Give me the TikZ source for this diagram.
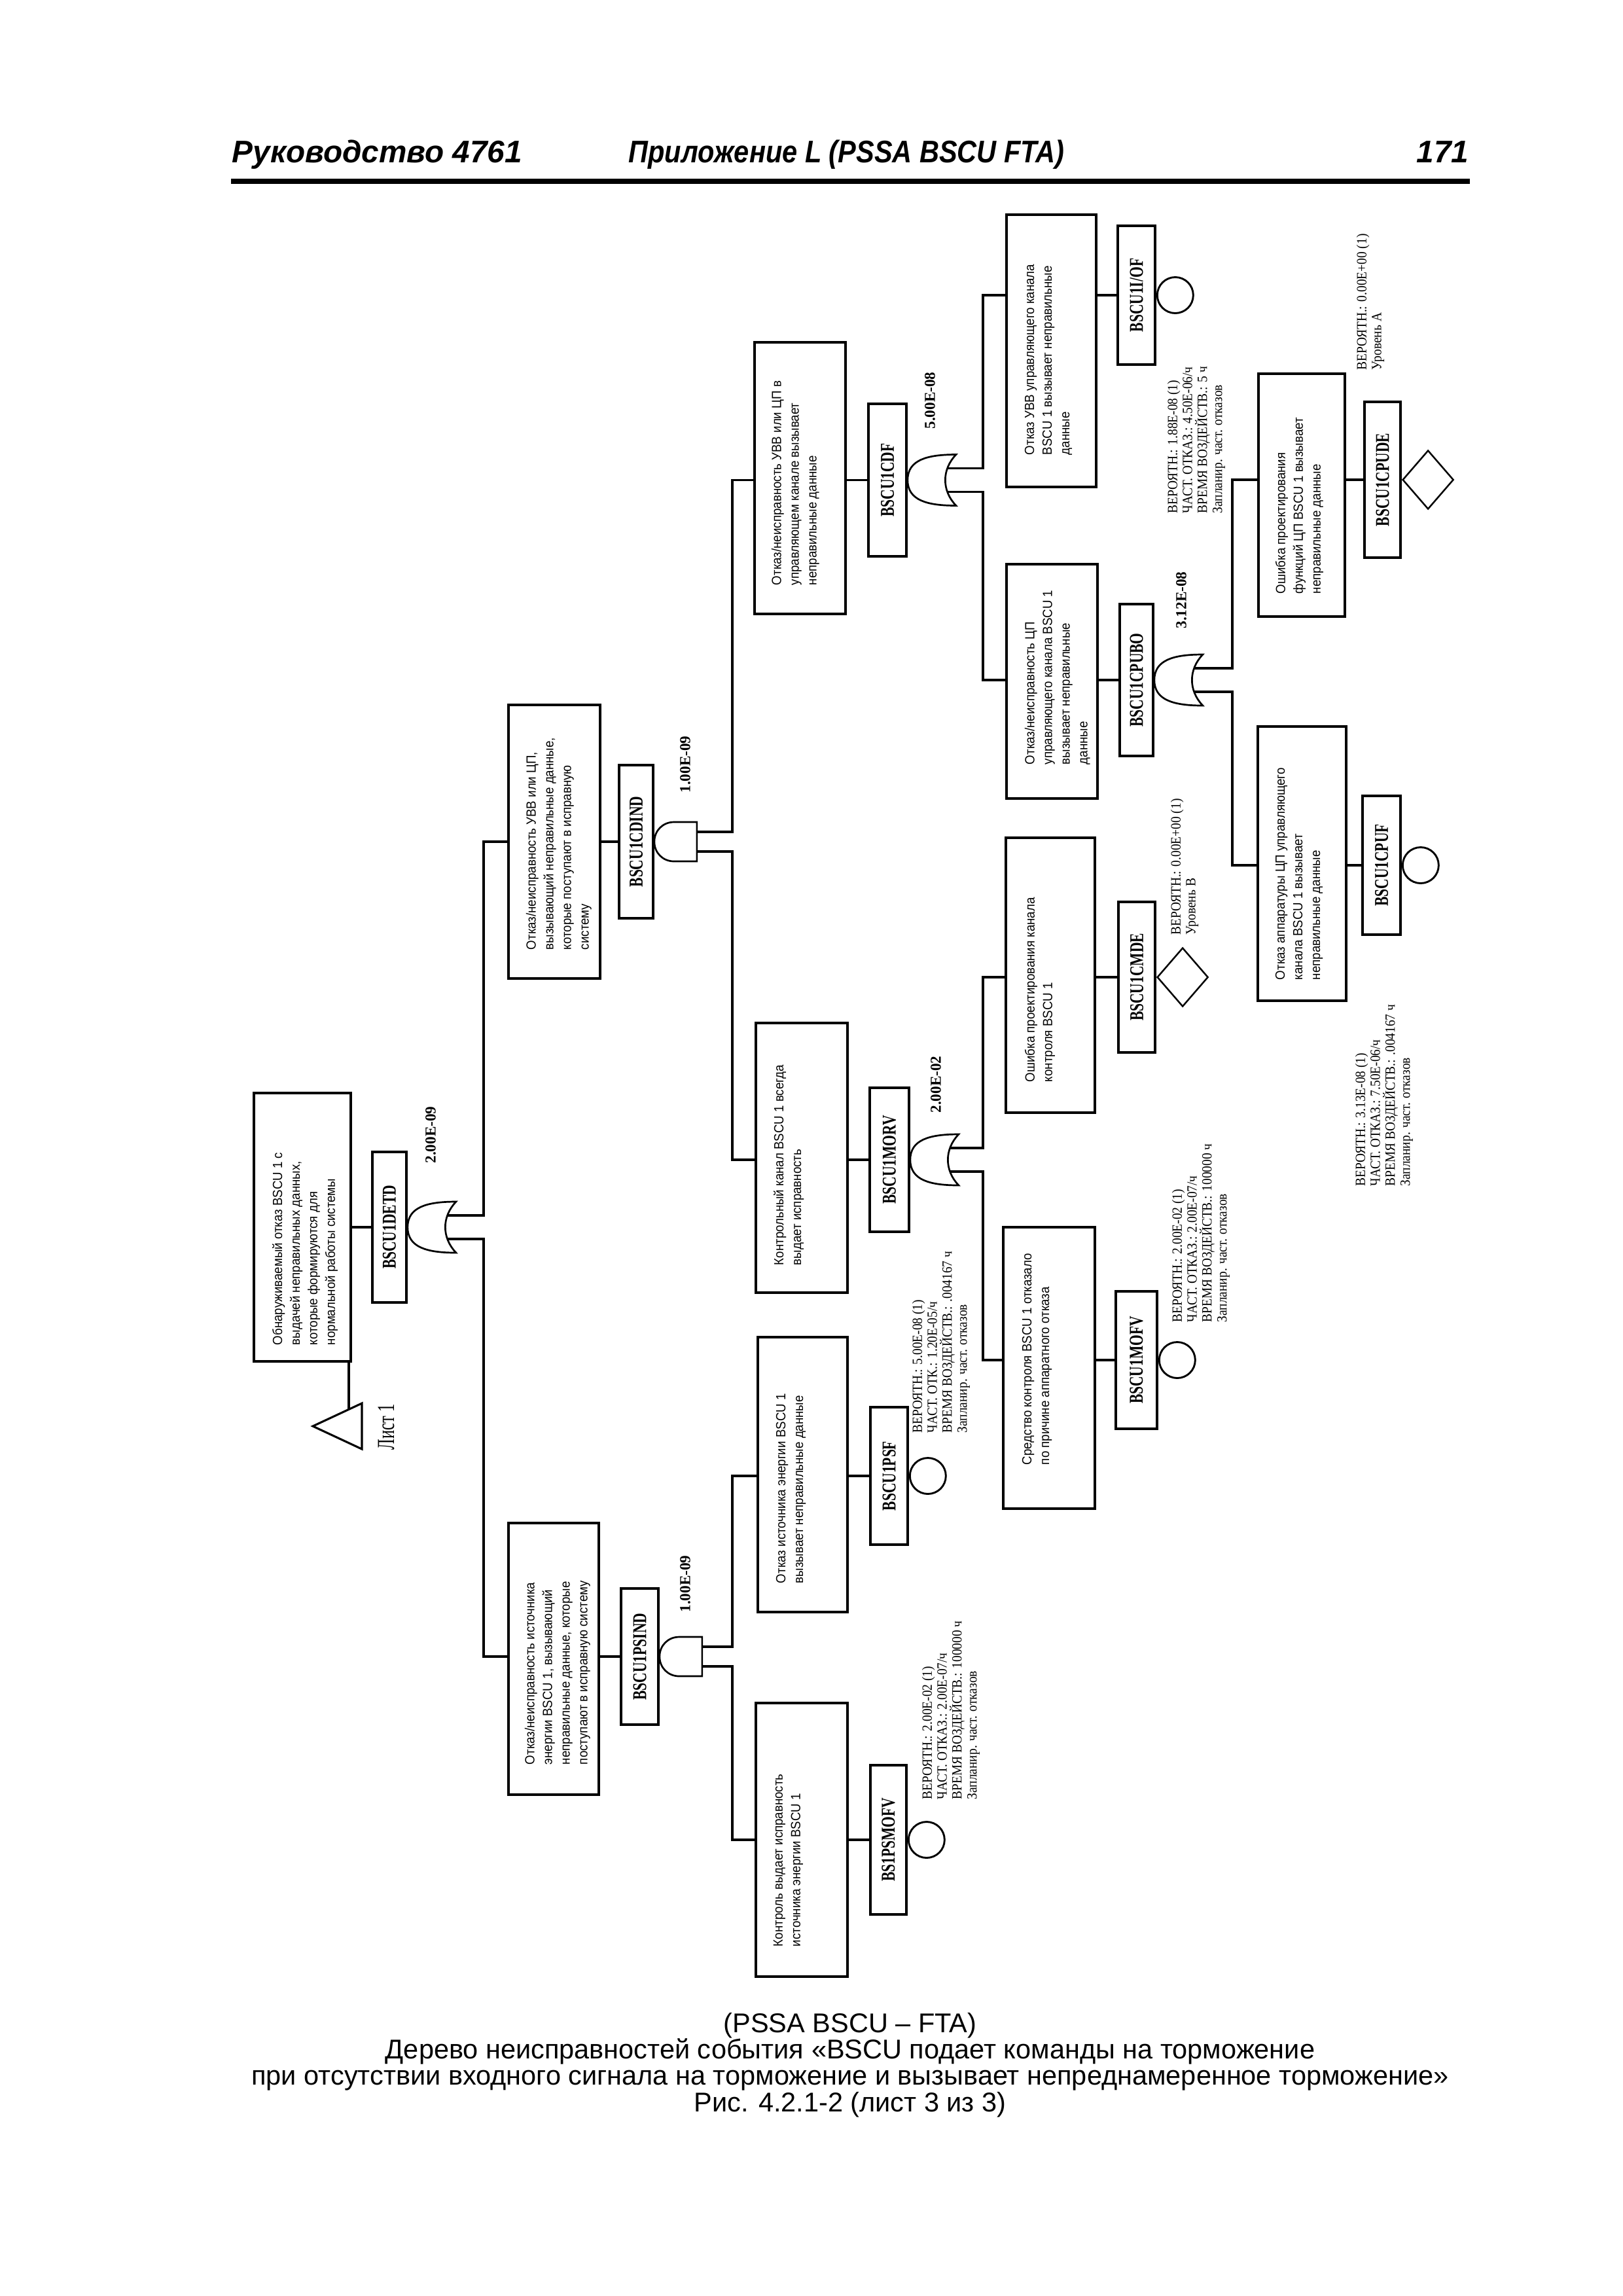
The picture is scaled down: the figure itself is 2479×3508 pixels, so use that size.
\documentclass[tikz,border=0pt]{standalone}
\usepackage{fontspec}
\setmainfont{Liberation Serif}
\newfontfamily\boxf[FakeStretch=0.92]{Liberation Sans}
\newfontfamily\infof[FakeStretch=0.9]{Liberation Serif}
\newfontfamily\lblf[FakeStretch=0.72]{Liberation Serif}
\newfontfamily\numf{Liberation Serif}
\newfontfamily\hdrf{Liberation Sans}
\newfontfamily\listf[FakeStretch=0.66]{Liberation Serif}
\usetikzlibrary{fit,calc,shapes.geometric}
\def\pxu{0.08471mm}
\tikzset{
 boxn/.style={draw, line width=0.9pt, inner sep=0pt},
 lbln/.style={draw, line width=0.9pt, inner sep=0pt},
 wire/.style={line width=0.75pt},
 gate/.style={line width=0.65pt},
 evt/.style={draw, line width=0.7pt, circle, inner sep=0pt, minimum size=55*\pxu, anchor=west},
 und/.style={draw, line width=0.6pt, diamond, inner sep=0pt, minimum width=78*\pxu, minimum height=90*\pxu, anchor=west},
 boxtxt/.style={rotate=90, anchor=north west, inner sep=0pt, align=left, font=\boxf\fontsize{4.9}{6.5}\selectfont},
 info/.style={rotate=90, anchor=north west, inner sep=0pt, align=left, font=\infof\fontsize{5.2}{5.5}\selectfont},
 lbltxt/.style={rotate=90, inner sep=0pt, font=\lblf\bfseries\fontsize{7.2}{8}\selectfont},
 num/.style={rotate=90, inner sep=0pt, font=\numf\bfseries\fontsize{5.6}{6}\selectfont},
 hdr/.style={inner sep=0pt, font=\hdrf\bfseries\itshape\fontsize{11.5}{12}\selectfont},
 capt/.style={inner sep=0pt, anchor=base, font=\hdrf\fontsize{10}{12}\selectfont},
 orgate/.pic={
  \draw[gate] (0,0) .. controls (0,-31) and (30,-39) .. (74,-39)
     .. controls (52,-16) and (52,16) .. (74,39)
     .. controls (30,39) and (0,31) .. cycle;
  \coordinate (-in1) at (60,-18);
  \coordinate (-in2) at (60,18);
 },
 andgate/.pic={
  \draw[gate] (30,-30) .. controls (13,-30) and (0,-17) .. (0,0)
     .. controls (0,17) and (13,30) .. (30,30) -- (65,30) -- (65,-30) -- cycle;
  \coordinate (-in1) at (65,-15);
  \coordinate (-in2) at (65,15);
 }
}
\begin{document}
\begin{tikzpicture}[x=0.08471mm, y=-0.08471mm]
\fill[white] (0,0) rectangle (2479,3508);
\useasboundingbox (0,0) rectangle (2479,3508);

% header
\node[hdr, anchor=base west] (h1) at (354,248) {Руководство 4761};
\node[hdr, anchor=base west, xscale=0.87] (h2) at (960,248) {Приложение L (PSSA BSCU FTA)};
\node[hdr, anchor=base east] (h3) at (2245,248) {171};
\coordinate (rl) at (353,277);
\coordinate (rr) at (2246,277);
\draw[line width=1.8pt] (rl) -- (rr);

% ---------- boxes ----------
\node[boxn, fit={(388,1670) (536,2080)}] (bROOT) {};
\node[boxn, fit={(777,1077) (917,1495)}] (bCDIND) {};
\node[boxn, fit={(777,2327) (915,2742)}] (bPSIND) {};
\node[boxn, fit={(1153,523) (1292,938)}] (bCDF) {};
\node[boxn, fit={(1155,1563) (1295,1975)}] (bMORV) {};
\node[boxn, fit={(1158,2043) (1295,2463)}] (bPSF) {};
\node[boxn, fit={(1155,2602) (1295,3020)}] (bPSMOFV) {};
\node[boxn, fit={(1538,328) (1675,744)}] (bOF) {};
\node[boxn, fit={(1538,862) (1677,1220)}] (bCPUBO) {};
\node[boxn, fit={(1537,1280) (1673,1700)}] (bCMDE) {};
\node[boxn, fit={(1533,1875) (1673,2305)}] (bMOFV) {};
\node[boxn, fit={(1923,571) (2055,942)}] (bCPUDE) {};
\node[boxn, fit={(1922,1110) (2057,1529)}] (bCPUF) {};

% ---------- box texts ----------
\node[boxtxt] (tROOT) at ($(bROOT.south west)+(29,-26)$) {Обнаруживаемый отказ BSCU 1 с\\выдачей неправильных данных,\\которые формируются для\\нормальной работы системы};
\node[boxtxt] (tCDIND) at ($(bCDIND.south west)+(28,-45)$) {Отказ/неисправность УВВ или ЦП,\\вызывающий неправильные данные,\\которые поступают в исправную\\систему};
\node[boxtxt] (tPSIND) at ($(bPSIND.south west)+(26,-47)$) {Отказ/неисправность источника\\энергии BSCU 1, вызывающий\\неправильные данные, которые\\поступают в исправную систему};
\node[boxtxt] (tCDF) at ($(bCDF.south west)+(27,-45)$) {Отказ/неисправность УВВ или ЦП в\\управляющем канале вызывает\\неправильные данные};
\node[boxtxt] (tMORV) at ($(bMORV.south west)+(28,-43)$) {Контрольный канал BSCU 1 всегда\\выдает исправность};
\node[boxtxt] (tPSF) at ($(bPSF.south west)+(29,-45)$) {Отказ источника энергии BSCU 1\\вызывает неправильные данные};
\node[boxtxt] (tPSMOFV) at ($(bPSMOFV.south west)+(28,-47)$) {Контроль выдает исправность\\источника энергии BSCU 1};
\node[boxtxt] (tOF) at ($(bOF.south west)+(29,-50)$) {Отказ УВВ управляющего канала\\BSCU 1 вызывает неправильные\\данные};
\node[boxtxt] (tCPUBO) at ($(bCPUBO.south west)+(29,-53)$) {Отказ/неисправность ЦП\\управляющего канала BSCU 1\\вызывает неправильные\\данные};
\node[boxtxt] (tCMDE) at ($(bCMDE.south west)+(30,-48)$) {Ошибка проектирования канала\\контроля BSCU 1};
\node[boxtxt] (tMOFV) at ($(bMOFV.south west)+(30,-68)$) {Средство контроля BSCU 1 отказало\\по причине аппаратного отказа};
\node[boxtxt] (tCPUDE) at ($(bCPUDE.south west)+(27,-36)$) {Ошибка проектирования\\функций ЦП BSCU 1 вызывает\\неправильные данные};
\node[boxtxt] (tCPUF) at ($(bCPUF.south west)+(28,-33)$) {Отказ аппаратуры ЦП управляющего\\канала BSCU 1 вызывает\\неправильные данные};

% ---------- label boxes ----------
\node[lbln, fit={(569,1760) (621,1990)}] (lDETD) {};
\node[lbln, fit={(946,1169) (998,1403)}] (lCDIND) {};
\node[lbln, fit={(949,2427) (1006,2635)}] (lPSIND) {};
\node[lbln, fit={(1327,617) (1385,850)}] (lCDF) {};
\node[lbln, fit={(1329,1662) (1389,1882)}] (lMORV) {};
\node[lbln, fit={(1330,2150) (1387,2360)}] (lPSF) {};
\node[lbln, fit={(1330,2697) (1385,2925)}] (lPSMOFV) {};
\node[lbln, fit={(1708,345) (1765,557)}] (lOF) {};
\node[lbln, fit={(1711,923) (1762,1155)}] (lCPUBO) {};
\node[lbln, fit={(1709,1378) (1765,1608)}] (lCMDE) {};
\node[lbln, fit={(1705,1973) (1768,2183)}] (lMOFV) {};
\node[lbln, fit={(2085,614) (2140,852)}] (lCPUDE) {};
\node[lbln, fit={(2082,1216) (2140,1428)}] (lCPUF) {};

\node[lbltxt] (xDETD) at (lDETD.center) {BSCU1DETD};
\node[lbltxt] (xCDIND) at (lCDIND.center) {BSCU1CDIND};
\node[lbltxt] (xPSIND) at (lPSIND.center) {BSCU1PSIND};
\node[lbltxt] (xCDF) at (lCDF.center) {BSCU1CDF};
\node[lbltxt] (xMORV) at (lMORV.center) {BSCU1MORV};
\node[lbltxt] (xPSF) at (lPSF.center) {BSCU1PSF};
\node[lbltxt] (xPSMOFV) at (lPSMOFV.center) {BS1PSMOFV};
\node[lbltxt] (xOF) at (lOF.center) {BSCU1I/OF};
\node[lbltxt] (xCPUBO) at (lCPUBO.center) {BSCU1CPUBO};
\node[lbltxt] (xCMDE) at (lCMDE.center) {BSCU1CMDE};
\node[lbltxt] (xMOFV) at (lMOFV.center) {BSCU1MOFV};
\node[lbltxt] (xCPUDE) at (lCPUDE.center) {BSCU1CPUDE};
\node[lbltxt] (xCPUF) at (lCPUF.center) {BSCU1CPUF};

% ---------- gates ----------
\pic (gDETD) at (lDETD.east) {orgate};
\pic (gCDIND) at (lCDIND.east) {andgate};
\pic (gPSIND) at (lPSIND.east) {andgate};
\pic (gCDF) at (lCDF.east) {orgate};
\pic (gMORV) at (lMORV.east) {orgate};
\pic (gCPUBO) at (lCPUBO.east) {orgate};

% ---------- basic / undeveloped events ----------
\node[evt] (ePSF) at (lPSF.east) {};
\node[evt] (ePSMOFV) at (lPSMOFV.east) {};
\node[evt] (eOF) at (lOF.east) {};
\node[evt] (eMOFV) at (lMOFV.east) {};
\node[evt] (eCPUF) at (lCPUF.east) {};
\node[und] (eCMDE) at (lCMDE.east) {};
\node[und] (eCPUDE) at (lCPUDE.east) {};

% ---------- probabilities ----------
\node[num] (nDETD) at (658,1734) {2.00E-09};
\node[num] (nCDIND) at (1047,1168) {1.00E-09};
\node[num] (nPSIND) at (1047,2420) {1.00E-09};
\node[num] (nCDF) at (1421,612) {5.00E-08};
\node[num] (nMORV) at (1430,1657) {2.00E-02};
\node[num] (nCPUBO) at (1805,917) {3.12E-08};

% ---------- event data ----------
\node[info] (iPSF) at (1393,2190) {ВЕРОЯТН.: 5.00E-08 (1)\\ЧАСТ. ОТК.: 1.20E-05/ч\\ВРЕМЯ ВОЗДЕЙСТВ.: .004167 ч\\Запланир. част. отказов};
\node[info] (iPSMOFV) at (1408,2750) {ВЕРОЯТН.: 2.00E-02 (1)\\ЧАСТ. ОТКАЗ.: 2.00E-07/ч\\ВРЕМЯ ВОЗДЕЙСТВ.: 100000 ч\\Запланир. част. отказов};
\node[info] (iOF) at (1783,785) {ВЕРОЯТН.: 1.88E-08 (1)\\ЧАСТ. ОТКАЗ.: 4.50E-06/ч\\ВРЕМЯ ВОЗДЕЙСТВ.: 5 ч\\Запланир. част. отказов};
\node[info] (iCMDE) at (1788,1429) {ВЕРОЯТН.: 0.00E+00 (1)\\Уровень B};
\node[info] (iMOFV) at (1790,2021) {ВЕРОЯТН.: 2.00E-02 (1)\\ЧАСТ. ОТКАЗ.: 2.00E-07/ч\\ВРЕМЯ ВОЗДЕЙСТВ.: 100000 ч\\Запланир. част. отказов};
\node[info] (iCPUDE) at (2072,566) {ВЕРОЯТН.: 0.00E+00 (1)\\Уровень A};
\node[info] (iCPUF) at (2070,1813) {ВЕРОЯТН.: 3.13E-08 (1)\\ЧАСТ. ОТКАЗ.: 7.50E-06/ч\\ВРЕМЯ ВОЗДЕЙСТВ.: .004167 ч\\Запланир. част. отказов};

% ---------- box to label connectors ----------
\draw[wire] (lDETD.west -| bROOT.east) -- (lDETD.west);
\draw[wire] (lCDIND.west -| bCDIND.east) -- (lCDIND.west);
\draw[wire] (lPSIND.west -| bPSIND.east) -- (lPSIND.west);
\draw[wire] (lCDF.west -| bCDF.east) -- (lCDF.west);
\draw[wire] (lMORV.west -| bMORV.east) -- (lMORV.west);
\draw[wire] (lPSF.west -| bPSF.east) -- (lPSF.west);
\draw[wire] (lPSMOFV.west -| bPSMOFV.east) -- (lPSMOFV.west);
\draw[wire] (lOF.west -| bOF.east) -- (lOF.west);
\draw[wire] (lCPUBO.west -| bCPUBO.east) -- (lCPUBO.west);
\draw[wire] (lCMDE.west -| bCMDE.east) -- (lCMDE.west);
\draw[wire] (lMOFV.west -| bMOFV.east) -- (lMOFV.west);
\draw[wire] (lCPUDE.west -| bCPUDE.east) -- (lCPUDE.west);
\draw[wire] (lCPUF.west -| bCPUF.east) -- (lCPUF.west);

% ---------- buses ----------
\coordinate (busA) at (739,0);
\coordinate (busB) at (1119,0);
\coordinate (busD) at (1502,0);
\coordinate (busF) at (1883,0);
\draw[wire] (gDETD-in1) -- (gDETD-in1 -| busA) |- (lCDIND.west -| bCDIND.west);
\draw[wire] (gDETD-in2) -- (gDETD-in2 -| busA) |- (lPSIND.west -| bPSIND.west);
\draw[wire] (gCDIND-in1) -- (gCDIND-in1 -| busB) |- (lCDF.west -| bCDF.west);
\draw[wire] (gCDIND-in2) -- (gCDIND-in2 -| busB) |- (lMORV.west -| bMORV.west);
\draw[wire] (gPSIND-in1) -- (gPSIND-in1 -| busB) |- (lPSF.west -| bPSF.west);
\draw[wire] (gPSIND-in2) -- (gPSIND-in2 -| busB) |- (lPSMOFV.west -| bPSMOFV.west);
\draw[wire] (gCDF-in1) -- (gCDF-in1 -| busD) |- (lOF.west -| bOF.west);
\draw[wire] (gCDF-in2) -- (gCDF-in2 -| busD) |- (lCPUBO.west -| bCPUBO.west);
\draw[wire] (gMORV-in1) -- (gMORV-in1 -| busD) |- (lCMDE.west -| bCMDE.west);
\draw[wire] (gMORV-in2) -- (gMORV-in2 -| busD) |- (lMOFV.west -| bMOFV.west);
\draw[wire] (gCPUBO-in1) -- (gCPUBO-in1 -| busF) |- (lCPUDE.west -| bCPUDE.west);
\draw[wire] (gCPUBO-in2) -- (gCPUBO-in2 -| busF) |- (lCPUF.west -| bCPUF.west);

% ---------- transfer triangle ----------
\coordinate (trA) at (478,2179);
\coordinate (trB) at (553,2144);
\coordinate (trC) at (553,2214);
\coordinate (trT) at (533,2153);
\draw[wire] (trA) -- (trB) -- (trC) -- cycle;
\draw[wire] (bROOT.south -| trT) -- (trT);
\node[rotate=90, inner sep=0pt, font=\listf\fontsize{9}{10}\selectfont] (list) at (590,2180) {Лист 1};

% ---------- caption ----------
\node[capt] (c1) at (1299,3105) {(PSSA BSCU – FTA)};
\node[capt] (c2) at (1299,3145) {Дерево неисправностей события «BSCU подает команды на торможение};
\node[capt] (c3) at (1299,3185) {при отсутствии входного сигнала на торможение и вызывает непреднамеренное торможение»};
\node[capt] (c4) at (1299,3226) {Рис. 4.2.1-2 (лист 3 из 3)};
\end{tikzpicture}
\end{document}
